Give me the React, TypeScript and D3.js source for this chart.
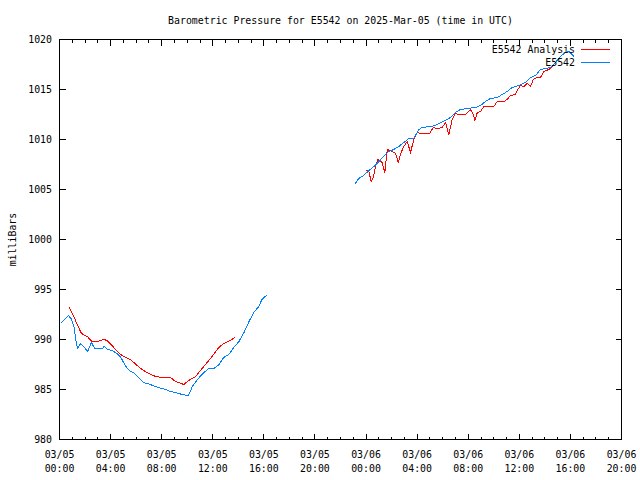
import React from "react";
import * as d3 from "d3";

// hours since 2025-03-05 00:00 UTC; null marks a gap
const analysisHours: (number | null)[] = [
  0.73, 1.12, 1.39, 1.72, 2.17, 2.56, 2.95, 3.47, 3.73, 4.25, 4.78, 5.17, 5.56, 6.08, 6.47, 6.99,
  7.52, 8.04, 8.69, 9.08, 9.73, 10.12, 10.65, 11.3, 11.95, 12.47, 12.86, 13.39, 13.72,
  null,
  24.0, 24.22, 24.4, 24.56, 24.74, 24.92, 25.26, 25.47, 25.66, 26.05, 26.31, 26.52, 26.75, 26.96,
  27.22, 27.48, 27.74, 28.0, 28.26, 28.99, 29.26, 29.57, 29.96, 30.22, 30.48, 30.74, 31.0, 31.26,
  31.79, 32.18, 32.39, 32.52, 32.71, 32.96, 33.22, 34.0, 34.27, 34.79, 35.05, 35.31, 35.7, 35.88,
  36.09, 36.35, 36.62, 36.88, 37.09, 37.4, 37.66, 37.92, 38.31, 38.7, 39.07,
];
const analysisValues: (number | null)[] = [
  993.3, 992.3, 991.5, 990.6, 990.3, 989.8, 989.8, 990.0, 989.9, 989.2, 988.5, 988.2, 988.0, 987.4,
  987.0, 986.6, 986.3, 986.2, 986.2, 985.8, 985.5, 985.9, 986.3, 987.3, 988.3, 989.2, 989.6, 989.9,
  990.2,
  null,
  1006.9, 1006.8, 1005.8, 1006.2, 1007.3, 1008.0, 1007.7, 1006.7, 1009.0, 1008.8, 1008.6, 1007.7,
  1008.7, 1009.3, 1009.8, 1008.7, 1010.0, 1010.7, 1010.6, 1010.6, 1011.2, 1011.1, 1011.2, 1011.7,
  1010.5, 1012.0, 1012.6, 1012.5, 1012.5, 1013.0, 1012.5, 1011.9, 1012.7, 1012.8, 1013.3, 1013.3,
  1013.8, 1013.8, 1014.0, 1014.4, 1014.5, 1015.0, 1015.4, 1015.3, 1015.6, 1015.3, 1016.0, 1016.2,
  1016.2, 1016.8, 1017.0, 1017.5, 1018.0,
];

const stationHours: (number | null)[] = [
  0.1, 0.7, 0.9, 1.15, 1.25, 1.4, 1.65, 1.9, 2.2, 2.5, 2.75, 3.35, 3.5, 3.75, 4.1, 4.5, 4.8, 5.2,
  5.55, 5.8, 6.1, 6.6, 7.1, 7.75, 8.3, 8.7, 9.1, 9.6, 10.1, 10.4, 10.8, 11.3, 11.7, 12.1, 12.5,
  12.85, 13.25, 13.65, 14.05, 14.45, 14.8, 15.2, 15.6, 15.85, 16.1, 16.25,
  null,
  23.17, 23.43, 23.82, 24.22, 24.61, 25.0, 25.39, 25.78, 26.17, 26.56, 26.96, 27.35, 27.74, 28.13,
  28.4, 29.05, 29.44, 29.83, 30.22, 30.61, 31.0, 31.39, 31.92, 32.57, 32.96, 33.35, 33.74, 34.27,
  34.66, 35.05, 35.44, 35.96, 36.48, 36.88, 37.27, 37.66, 38.05, 38.44, 38.83, 39.22, 39.61, 39.87,
  40.14, 40.26,
];
const stationValues: (number | null)[] = [
  991.6, 992.4, 992.1, 991.2, 990.2, 989.1, 989.6, 989.3, 988.8, 989.7, 989.1, 989.1, 989.3, 989.0,
  988.9, 988.6, 988.2, 987.3, 986.8, 986.7, 986.3, 985.7, 985.5, 985.2, 985.0, 984.8, 984.7, 984.5,
  984.4, 985.3, 986.0, 986.7, 987.1, 987.1, 987.5, 988.2, 988.5, 989.2, 989.8, 990.7, 991.7, 992.7,
  993.3, 994.0, 994.3, 994.4,
  null,
  1005.6, 1006.1, 1006.4, 1006.9, 1007.3, 1007.8, 1008.3, 1008.8, 1009.0, 1009.3, 1009.7, 1010.1,
  1010.1, 1011.0, 1011.2, 1011.3, 1011.4, 1011.7, 1011.9, 1012.2, 1012.7, 1013.0, 1013.1, 1013.2,
  1013.4, 1013.8, 1014.1, 1014.2, 1014.5, 1014.8, 1015.2, 1015.4, 1015.7, 1016.2, 1016.4, 1017.0,
  1017.1, 1017.2, 1017.7, 1018.3, 1018.7, 1018.8, 1018.5, 1018.3,
];

const yTicks = [980, 985, 990, 995, 1000, 1005, 1010, 1015, 1020];
const seriesNames = ["E5542 Analysis", "E5542"];
const seriesColors = ["#ff0000", "#0080ff"];
const title = "Barometric Pressure for E5542 on 2025-Mar-05 (time in UTC)";
const yLabel = "milliBars";

const BASE = Date.UTC(2025, 2, 5, 0, 0);
const START = new Date(BASE);
const END = new Date(BASE + 44 * 3600e3);

const L = 59.5, R = 621.5, T = 39.5, B = 439.5;
const FONT = "'DejaVu Sans Mono', 'Liberation Mono', monospace";
const FS = 9.9;

export default function App() {
  const x = d3.scaleUtc().domain([START, END]).range([L, R]);
  const y = d3.scaleLinear().domain([980, 1020]).range([B, T]);

  const toPts = (hs: (number | null)[], vs: (number | null)[]) =>
    hs.map((h, i) => ({ t: h == null ? null : new Date(BASE + h * 3600e3), v: vs[i] }));

  const line = d3
    .line<{ t: Date | null; v: number | null }>()
    .defined((d) => d.t != null && d.v != null)
    .x((d) => x(d.t as Date))
    .y((d) => y(d.v as number));

  const majorX = x.ticks(d3.utcHour.every(4) as any);
  const minorX = d3.utcHour.range(START, new Date(+END + 1)).filter((d) => d.getUTCHours() % 4 !== 0);
  const fmtDate = d3.utcFormat("%m/%d");
  const fmtTime = d3.utcFormat("%H:%M");

  const MAJ = 6, MIN = 3;

  return (
    <svg width={640} height={480} style={{ display: "block", position: "absolute", left: 0, top: 0, background: "#fff" }}
      fontFamily={FONT} fontSize={FS}>
      <rect x={0} y={0} width={640} height={480} fill="#fff" />
      <text x={(L + R) / 2} y={23.5} textAnchor="middle" fill="#000">{title}</text>
      <text transform={`translate(15.5,${(T + B) / 2}) rotate(-90)`} textAnchor="middle" fill="#000">{yLabel}</text>

      <g stroke="#000" strokeWidth={1} shapeRendering="crispEdges">
        {majorX.map((d, i) => (
          <g key={"mx" + i}>
            <line x1={x(d)} x2={x(d)} y1={B} y2={B - MAJ} />
            <line x1={x(d)} x2={x(d)} y1={T} y2={T + MAJ} />
          </g>
        ))}
        {minorX.map((d, i) => (
          <g key={"nx" + i}>
            <line x1={x(d)} x2={x(d)} y1={B} y2={B - MIN} />
            <line x1={x(d)} x2={x(d)} y1={T} y2={T + MIN} />
          </g>
        ))}
        {yTicks.map((v) => (
          <g key={"y" + v}>
            <line x1={L} x2={L + MAJ} y1={y(v)} y2={y(v)} />
            <line x1={R} x2={R - MAJ} y1={y(v)} y2={y(v)} />
          </g>
        ))}
      </g>

      {yTicks.map((v) => (
        <text key={"yl" + v} x={52} y={y(v) + 3.5} textAnchor="end" fill="#000">{v}</text>
      ))}
      {majorX.map((d, i) => (
        <g key={"xl" + i}>
          <text x={x(d)} y={458} textAnchor="middle" fill="#000">{fmtDate(d)}</text>
          <text x={x(d)} y={472} textAnchor="middle" fill="#000">{fmtTime(d)}</text>
        </g>
      ))}

      <path d={line(toPts(analysisHours, analysisValues)) || ""} fill="none" stroke={seriesColors[0]} strokeWidth={1} shapeRendering="crispEdges" />
      <path d={line(toPts(stationHours, stationValues)) || ""} fill="none" stroke={seriesColors[1]} strokeWidth={1} shapeRendering="crispEdges" />

      {seriesNames.map((n, i) => (
        <g key={n}>
          <text x={575} y={52.5 + i * 13} textAnchor="end" fill="#000">{n}</text>
          <line x1={581} x2={610} y1={49.5 + i * 13} y2={49.5 + i * 13} stroke={seriesColors[i]} strokeWidth={1} shapeRendering="crispEdges" />
        </g>
      ))}

      <rect x={L} y={T} width={R - L} height={B - T} fill="none" stroke="#000" strokeWidth={1} shapeRendering="crispEdges" />
    </svg>
  );
}
